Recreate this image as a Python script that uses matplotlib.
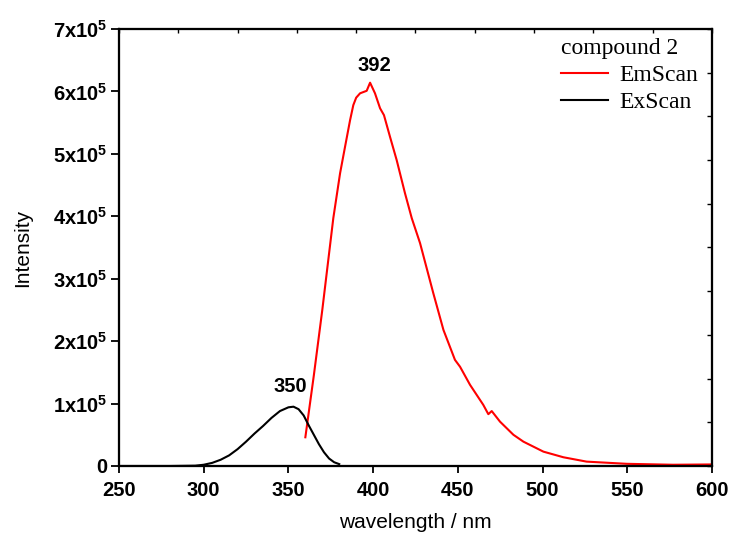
import numpy as np
import matplotlib
matplotlib.use('Agg')
import matplotlib.pyplot as plt
from matplotlib.lines import Line2D

plt.rcParams['font.family'] = ['Liberation Sans', 'DejaVu Sans']
plt.rcParams['mathtext.fontset'] = 'custom'
plt.rcParams['mathtext.rm'] = 'Liberation Sans'
plt.rcParams['mathtext.bf'] = 'Liberation Sans:bold'

# excitation scan (black)
ex_wl = [250, 280, 295, 300, 305, 310, 315, 320, 325, 330, 335, 340, 345, 350,
         353, 356, 359, 362, 365, 368, 371, 374, 377, 380]
ex_int = [0, 0, 0.005, 0.02, 0.05, 0.10, 0.17, 0.27, 0.39, 0.52, 0.64, 0.77,
          0.88, 0.94, 0.95, 0.91, 0.81, 0.65, 0.50, 0.35, 0.22, 0.12, 0.06, 0.03]

# emission scan (red)
em_wl = [360, 365, 370, 376.5, 380.5, 383.4, 386.4, 388.3, 390, 392.3, 396.2,
         398.2, 401.1, 404.1, 406.4, 410, 413.9, 418.8, 422.8, 427.7, 435.5,
         441.5, 448.3, 451.3, 457.2, 465, 468, 470, 474.9, 482.8, 488.7, 500.5,
         512.3, 526, 549.7, 577, 600]
em_int = [0.46, 1.45, 2.5, 3.97, 4.69, 5.11, 5.54, 5.78, 5.9, 5.97, 6.01,
          6.14, 5.97, 5.73, 5.62, 5.27, 4.90, 4.37, 3.97, 3.57, 2.77,
          2.18, 1.70, 1.59, 1.30, 0.98, 0.83, 0.88, 0.71, 0.50, 0.39, 0.23,
          0.14, 0.07, 0.035, 0.02, 0.025]

x_ticks = [250, 300, 350, 400, 450, 500, 550, 600]
y_ticks = [0, 1, 2, 3, 4, 5, 6, 7]
y_labels = ['0'] + [r'$\mathbf{%dx10}^{\mathregular{5}}$' % v for v in y_ticks[1:]]

fig = plt.figure(figsize=(7.34, 5.36), dpi=100)
ax = fig.add_axes([0.1621, 0.1306, 0.8079, 0.8153])

ax.plot(em_wl, np.array(em_int) * 1e5, color='#ff0000', lw=1.5)
ax.plot(ex_wl, np.array(ex_int) * 1e5, color='black', lw=1.5)

ax.set_xlim(250, 600)
ax.set_ylim(0, 7e5)
ax.set_xticks(x_ticks)
ax.set_xticklabels([str(v) for v in x_ticks], fontsize=14.5, fontweight='bold')
ax.set_yticks([v * 1e5 for v in y_ticks])
ax.set_yticklabels(y_labels, fontsize=14.5, fontweight='bold')
ax.tick_params(axis='x', direction='out', length=5, width=1.3, pad=6)
ax.tick_params(axis='y', direction='out', length=6, width=1.3, pad=2)
for s in ax.spines.values():
    s.set_linewidth(1.5)

ax.set_xlabel('wavelength / nm', fontsize=15, labelpad=9)
ax.set_ylabel('Intensity', fontsize=15)
ax.yaxis.set_label_coords(-0.147, 0.5)

# peak labels
ax.text(401, 6.42e5, '392', ha='center', va='center', fontsize=14.5, fontweight='bold')
ax.text(351, 1.27e5, '350', ha='center', va='center', fontsize=14.5, fontweight='bold')

# top / right inward ticks
ax_t = ax.twiny()
ax_t.set_xlim(0, 10)
ax_t.set_xticks(range(11))
ax_t.tick_params(axis='x', direction='in', length=3, width=1, labeltop=False)
ax_r = ax.twinx()
ax_r.set_ylim(0, 10)
ax_r.set_yticks(range(11))
ax_r.tick_params(axis='y', direction='in', length=3.5, width=1, labelright=False)
for a in (ax_t, ax_r):
    for s in a.spines.values():
        s.set_linewidth(1.5)

handles = [Line2D([], [], color='#ff0000', lw=1.5), Line2D([], [], color='black', lw=1.5)]
leg = ax_r.legend(handles, ['EmScan', 'ExScan'], title='compound 2', loc='upper right',
                  bbox_to_anchor=(0.992, 1.0), frameon=False, alignment='left',
                  prop={'family': 'Liberation Serif', 'size': 17},
                  title_fontproperties={'family': 'Liberation Serif', 'size': 17},
                  handlelength=2.0, handletextpad=0.45, labelspacing=0.22,
                  borderaxespad=0.0)

fig.savefig('out.png', dpi=100)
